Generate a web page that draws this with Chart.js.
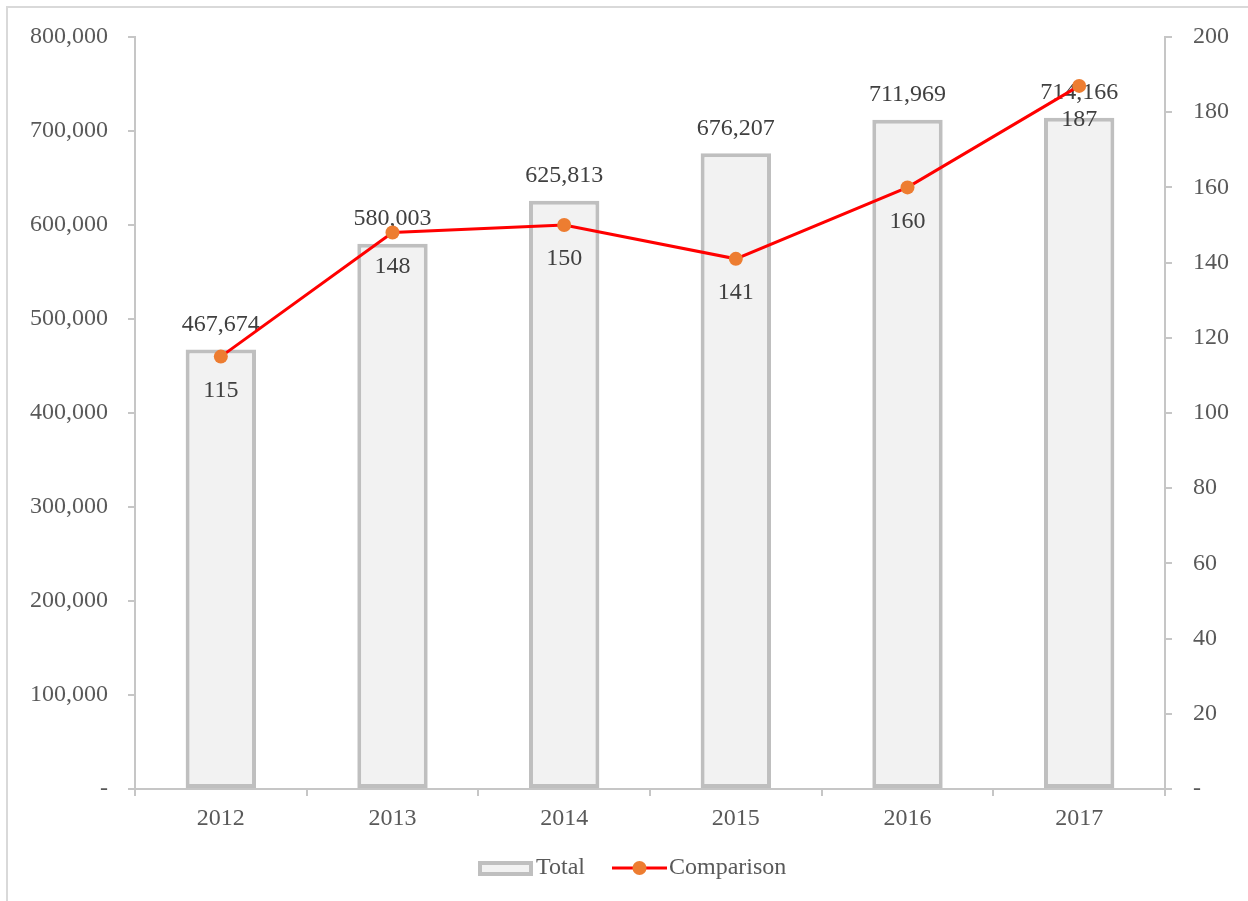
<!DOCTYPE html>
<html>
<head>
<meta charset="utf-8">
<script src="https://cdn.jsdelivr.net/npm/chart.js@4"></script>
<style>
  html, body { margin: 0; padding: 0; background: #fff; }
  #wrap { width: 1248px; height: 901px; position: relative; }
</style>
</head>
<body>
<div id="wrap"><canvas id="chart"></canvas></div>
<script>
// Data
const years = ["2012", "2013", "2014", "2015", "2016", "2017"];
const totals = [467674, 580003, 625813, 676207, 711969, 714166];
const comparison = [115, 148, 150, 141, 160, 187];
const seriesNames = ["Total", "Comparison"];

const FONT = "'Liberation Serif', 'Times New Roman', serif";
const FSIZE = 24;
const tickColor = "#595959";
const labelColor = "#404040";
const axisColor = "#c6c6c6";

const fmt = v => v === 0 ? "-" : v.toLocaleString("en-US");

// Frame, value labels and legend
const decorPlugin = {
  id: "decor",
  beforeDraw(chart) {
    const ctx = chart.ctx;
    ctx.save();
    ctx.strokeStyle = "#d9d9d9";
    ctx.lineWidth = 2;
    ctx.strokeRect(7, 7, 1400, 1100);
    ctx.restore();
  },
  afterDatasetDraw(chart, args) {
    if (args.index !== 0) return;
    const ctx = chart.ctx;
    ctx.save();
    ctx.font = FSIZE + "px " + FONT;
    ctx.fillStyle = labelColor;
    ctx.textAlign = "center";
    ctx.textBaseline = "middle";
    args.meta.data.forEach((bar, i) => {
      ctx.fillText(totals[i].toLocaleString("en-US"), bar.x, bar.y - 25);
    });
    ctx.restore();
  },
  afterDatasetsDraw(chart) {
    const ctx = chart.ctx;
    const meta = chart.getDatasetMeta(1);
    ctx.save();
    ctx.font = FSIZE + "px " + FONT;
    ctx.fillStyle = labelColor;
    ctx.textAlign = "center";
    ctx.textBaseline = "middle";
    meta.data.forEach((pt, i) => {
      ctx.fillText(String(comparison[i]), pt.x, pt.y + 34);
    });

    // legend
    const ly = 868;
    ctx.fillStyle = "#f2f2f2";
    ctx.strokeStyle = "#bfbfbf";
    ctx.lineWidth = 4;
    ctx.fillRect(480, 863, 51, 11);
    ctx.strokeRect(480, 863, 51, 11);
    ctx.fillStyle = tickColor;
    ctx.textAlign = "left";
    ctx.fillText(seriesNames[0], 536, ly);

    ctx.strokeStyle = "#ff0000";
    ctx.lineWidth = 3;
    ctx.beginPath();
    ctx.moveTo(612, ly);
    ctx.lineTo(667, ly);
    ctx.stroke();
    ctx.fillStyle = "#ed7d31";
    ctx.beginPath();
    ctx.arc(639.5, ly, 7, 0, Math.PI * 2);
    ctx.fill();
    ctx.fillStyle = tickColor;
    ctx.fillText(seriesNames[1], 669, ly);
    ctx.restore();
  }
};

new Chart(document.getElementById("chart"), {
  data: {
    labels: years,
    datasets: [
      {
        type: "bar",
        label: seriesNames[0],
        data: totals,
        yAxisID: "y",
        order: 2,
        backgroundColor: "#f2f2f2",
        borderColor: "#bfbfbf",
        borderWidth: 4,
        borderSkipped: false,
        categoryPercentage: 1,
        barPercentage: 0.41
      },
      {
        type: "line",
        label: seriesNames[1],
        data: comparison,
        yAxisID: "y1",
        order: 1,
        borderColor: "#ff0000",
        borderWidth: 3,
        pointBackgroundColor: "#ed7d31",
        pointBorderColor: "#ed7d31",
        pointRadius: 7,
        pointBorderWidth: 0,
        tension: 0
      }
    ]
  },
  options: {
    responsive: true,
    maintainAspectRatio: false,
    animation: false,
    layout: { padding: { left: 0, right: 0, top: 37, bottom: 62 } },
    plugins: {
      legend: { display: false },
      tooltip: { enabled: false }
    },
    scales: {
      x: {
        offset: true,
        grid: {
          offset: true,
          drawOnChartArea: false,
          drawTicks: true,
          tickLength: 7,
          color: axisColor,
          lineWidth: 2
        },
        border: { color: axisColor, width: 2 },
        ticks: {
          color: tickColor,
          font: { family: FONT, size: FSIZE },
          padding: 8
        },
        afterFit: s => { s.height = 50; }
      },
      y: {
        position: "left",
        min: 0,
        max: 800000,
        ticks: {
          stepSize: 100000,
          color: tickColor,
          font: { family: FONT, size: FSIZE },
          padding: 20,
          callback: v => fmt(v)
        },
        grid: {
          drawOnChartArea: false,
          drawTicks: true,
          tickLength: 7,
          color: axisColor,
          lineWidth: 2
        },
        border: { color: axisColor, width: 2 },
        afterFit: s => { s.width = 135; }
      },
      y1: {
        position: "right",
        min: 0,
        max: 200,
        ticks: {
          stepSize: 20,
          color: tickColor,
          font: { family: FONT, size: FSIZE },
          padding: 21,
          callback: v => fmt(v)
        },
        grid: {
          drawOnChartArea: false,
          drawTicks: true,
          tickLength: 7,
          color: axisColor,
          lineWidth: 2
        },
        border: { color: axisColor, width: 2 },
        afterFit: s => { s.width = 83; }
      }
    }
  },
  plugins: [decorPlugin]
});
</script>
</body>
</html>
